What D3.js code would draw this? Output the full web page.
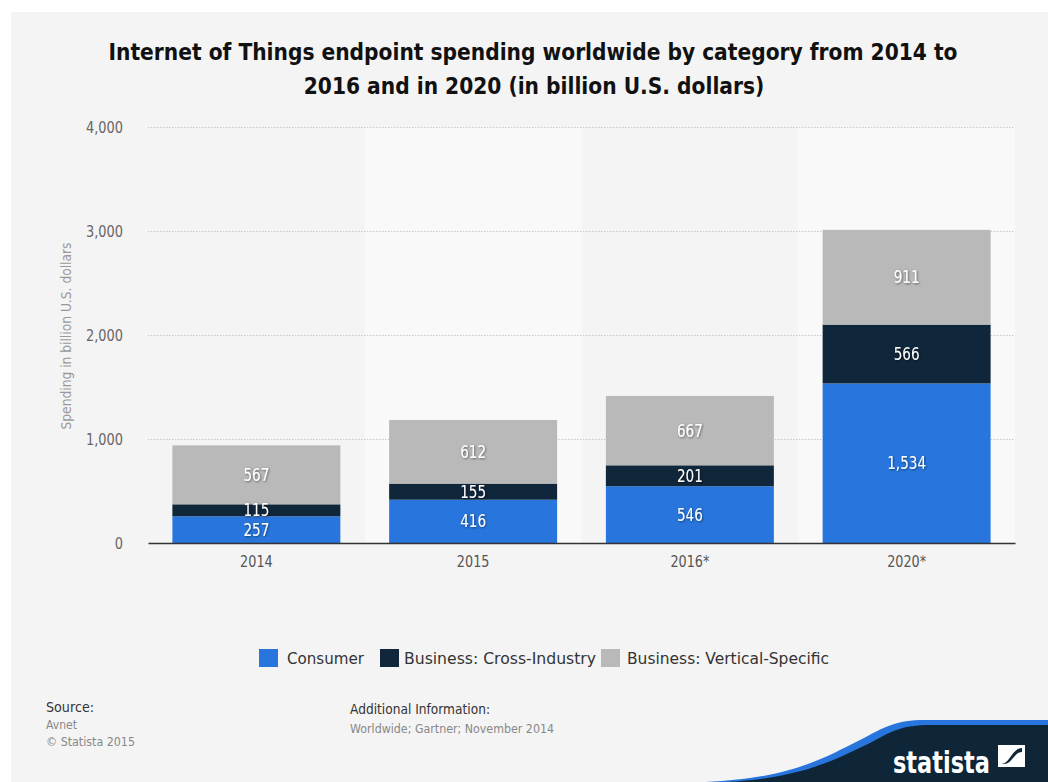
<!DOCTYPE html>
<html>
<head>
<meta charset="utf-8">
<script src="https://cdn.jsdelivr.net/npm/d3@7"></script>
<style>
  html, body { margin: 0; padding: 0; background: #ffffff; }
  svg { display: block; }
  text { font-family: "DejaVu Sans", sans-serif; }
</style>
</head>
<body>
<svg id="chart" width="1048" height="782"></svg>
<script>
// Chart data
const categories = ["2014", "2015", "2016*", "2020*"];
const consumer = [257, 416, 546, 1534];
const crossIndustry = [115, 155, 201, 566];
const verticalSpecific = [567, 612, 667, 911];
const seriesNames = ["Consumer", "Business: Cross-Industry", "Business: Vertical-Specific"];
const seriesColors = ["#2876dd", "#10263b", "#b9b9b9"];
const yTicks = [0, 1000, 2000, 3000, 4000];

const svg = d3.select("#chart");
const W = 1048, H = 782;

// Narrow a text selection horizontally to emulate a condensed face
function condense(sel, factor) {
  sel.each(function () {
    const len = this.getComputedTextLength();
    d3.select(this).attr("textLength", len * factor).attr("lengthAdjust", "spacingAndGlyphs");
  });
}

// Panel background
svg.append("rect").attr("x", 11).attr("y", 12).attr("width", W - 11).attr("height", H - 12).attr("fill", "#f4f4f4");

// Title (two lines, horizontally condensed)
const titleLines = [
  { text: "Internet of Things endpoint spending worldwide by category from 2014 to", cx: 533, by: 60 },
  { text: "2016 and in 2020 (in billion U.S. dollars)", cx: 534, by: 94 }
];
svg.append("g").selectAll("text").data(titleLines).join("text")
  .attr("transform", d => `translate(${d.cx},${d.by}) scale(0.88,1)`)
  .attr("text-anchor", "middle")
  .attr("font-size", 23).attr("font-weight", "bold").attr("fill", "#111")
  .text(d => d.text);

// Plot area
const plot = { left: 148, right: 1015, top: 127, bottom: 543 };
const x = d3.scaleBand().domain(categories).range([plot.left, plot.right]).paddingInner(0).paddingOuter(0);
const barWidth = x.bandwidth() * 0.775;
const y = d3.scaleLinear().domain([0, 4000]).range([plot.bottom, plot.top]);

// Alternating column bands
svg.append("g").selectAll("rect").data(categories).join("rect")
  .attr("x", d => x(d)).attr("y", plot.top).attr("width", x.bandwidth())
  .attr("height", plot.bottom - plot.top)
  .attr("fill", (d, i) => i % 2 === 1 ? "#f9f9f9" : "none");

// Grid lines and y-axis labels
const yAxis = d3.axisLeft(y).tickValues(yTicks).tickSize(-(plot.right - plot.left)).tickFormat(d3.format(",")).tickPadding(25);
const gy = svg.append("g").attr("transform", `translate(${plot.left},0)`).call(yAxis);
gy.select(".domain").remove();
gy.selectAll(".tick line").attr("stroke", "#c8c8c8").attr("stroke-dasharray", "1.5,1.5").attr("stroke-width", 1)
  .filter(d => d === 0).remove();
gy.selectAll(".tick text").attr("font-size", 16).attr("fill", "#666")
  .attr("font-family", "'DejaVu Sans', sans-serif")
  .call(condense, 0.81);

// Y-axis title
svg.append("text")
  .attr("transform", "translate(71,336) rotate(-90)")
  .attr("text-anchor", "middle").attr("font-size", 14).attr("fill", "#999")
  .attr("textLength", 187).attr("lengthAdjust", "spacingAndGlyphs")
  .text("Spending in billion U.S. dollars");

// Stacked bars
const rows = categories.map((c, i) => ({ cat: c, s0: consumer[i], s1: crossIndustry[i], s2: verticalSpecific[i] }));
const stack = d3.stack().keys(["s0", "s1", "s2"]);
const stacked = stack(rows);

const bars = svg.append("g");
stacked.forEach((layer, li) => {
  const g = bars.append("g").attr("fill", seriesColors[li]);
  g.selectAll("rect").data(layer).join("rect")
    .attr("x", d => x(d.data.cat) + (x.bandwidth() - barWidth) / 2)
    .attr("y", d => y(d[1]))
    .attr("width", barWidth)
    .attr("height", d => y(d[0]) - y(d[1]));
});

// Value label shadow
const defs = svg.append("defs");
const f = defs.append("filter").attr("id", "txtShadow").attr("x", "-20%").attr("y", "-30%").attr("width", "140%").attr("height", "160%");
f.append("feDropShadow").attr("dx", 0.8).attr("dy", 0.8).attr("stdDeviation", 0.8).attr("flood-color", "#000").attr("flood-opacity", 0.55);

const fmt = d3.format(",");
const labels = svg.append("g");
stacked.forEach((layer, li) => {
  labels.append("g").selectAll("text").data(layer).join("text")
    .attr("x", d => x(d.data.cat) + x.bandwidth() / 2)
    .attr("y", d => (y(d[0]) + y(d[1])) / 2)
    .attr("dy", "0.36em")
    .attr("text-anchor", "middle").attr("font-size", 17).attr("fill", "#ffffff")
    .attr("filter", "url(#txtShadow)")
    .text(d => fmt(d[1] - d[0]))
    .call(condense, 0.8);
});

// X axis
const xAxis = d3.axisBottom(x).tickSize(0).tickPadding(13);
const gx = svg.append("g").attr("transform", `translate(0,${plot.bottom})`).call(xAxis);
gx.select(".domain").attr("stroke", "#333").attr("stroke-width", 1.5);
gx.selectAll(".tick text").attr("font-size", 16).attr("fill", "#555")
  .attr("font-family", "'DejaVu Sans', sans-serif")
  .call(condense, 0.8);

// Legend
const legendSwatchX = [259, 380, 601];
const legendTextX = [287, 404, 627];
const legendTextW = [77, 192, 202];
const legend = svg.append("g");
seriesNames.forEach((name, i) => {
  legend.append("rect").attr("x", legendSwatchX[i]).attr("y", 649).attr("width", 19).attr("height", 18).attr("fill", seriesColors[i]);
  legend.append("text").attr("x", legendTextX[i]).attr("y", 664)
    .attr("font-size", 16).attr("fill", "#333")
    .attr("textLength", legendTextW[i]).attr("lengthAdjust", "spacingAndGlyphs")
    .text(name);
});

// Footer notes
const foot = svg.append("g");
function note(xp, yp, size, color, width, txt) {
  foot.append("text").attr("x", xp).attr("y", yp).attr("font-size", size).attr("fill", color)
    .attr("textLength", width).attr("lengthAdjust", "spacingAndGlyphs").text(txt);
}
note(46, 712, 13.5, "#333", 48, "Source:");
note(46, 729, 12.5, "#888", 31, "Avnet");
note(46, 746, 12.5, "#888", 89, "© Statista 2015");
note(350, 714, 13.5, "#333", 140, "Additional Information:");
note(350, 733, 12.5, "#888", 204, "Worldwide; Gartner; November 2014");

// Brand badge in the corner
const badge = svg.append("g");
badge.append("path")
  .attr("d", "M705,782 C790,778 820,760 860,740 C885,727 895,720 925,720 L1048,720 L1048,782 Z")
  .attr("fill", "#2876dd");
badge.append("path")
  .attr("d", "M725,782 C800,778 830,762 868,744 C892,731 902,725 930,725 L1048,725 L1048,782 Z")
  .attr("fill", "#0f2639");
badge.append("text").attr("x", 893).attr("y", 773)
  .attr("font-size", 31).attr("font-weight", "bold").attr("fill", "#ffffff")
  .attr("textLength", 97).attr("lengthAdjust", "spacingAndGlyphs")
  .text("statista");
badge.append("path")
  .attr("d", "M998,745 L1025,745 L1025,767 L998,767 Z")
  .attr("fill", "#ffffff");
badge.append("path")
  .attr("d", "M1001,764 C1010,764 1012,748 1022,748 L1022,752 C1014,752 1012,764 1004,764 Z")
  .attr("fill", "#0f2639");
</script>
</body>
</html>
